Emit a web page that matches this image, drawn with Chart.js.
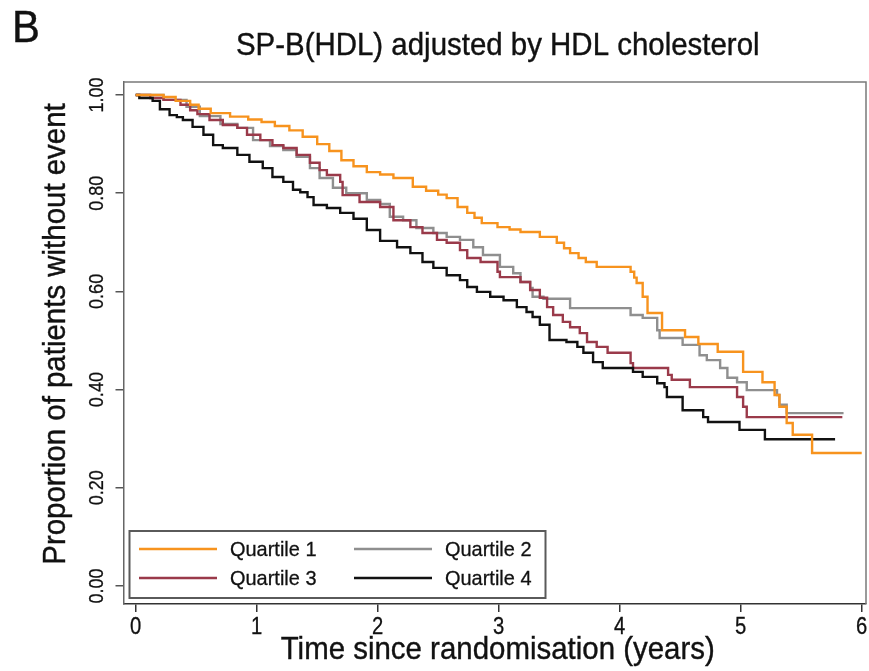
<!DOCTYPE html>
<html>
<head>
<meta charset="utf-8">
<script src="https://cdn.jsdelivr.net/npm/chart.js@4.4.1/dist/chart.umd.min.js"></script>
<style>
  html, body { margin: 0; padding: 0; background: #fff; }
</style>
</head>
<body>
<canvas id="km" width="869" height="671"></canvas>
<script>
// Kaplan-Meier curves (time in years, proportion without event)
const seriesNames = ['Quartile 1', 'Quartile 2', 'Quartile 3', 'Quartile 4'];
const seriesColors = ['#F7931E', '#8F8F8F', '#9A3A4A', '#111111'];

const q1Time = [0, 0.23, 0.33, 0.45, 0.52, 0.62, 0.78, 0.93, 1.04, 1.15, 1.27, 1.38, 1.50, 1.60, 1.70, 1.80, 1.91, 2.02, 2.13, 2.29, 2.40, 2.50, 2.57, 2.66, 2.74, 2.80, 2.86, 2.99, 3.09, 3.18, 3.34, 3.48, 3.54, 3.59, 3.66, 3.72, 3.81, 4.09, 4.12, 4.14, 4.19, 4.23, 4.35, 4.54, 4.65, 4.81, 5.02, 5.18, 5.28, 5.32, 5.38, 5.43, 5.59, 6.00];
const q1Surv = [1.0, 0.996, 0.988, 0.980, 0.972, 0.963, 0.956, 0.950, 0.945, 0.937, 0.928, 0.915, 0.900, 0.886, 0.867, 0.855, 0.843, 0.838, 0.831, 0.813, 0.805, 0.797, 0.790, 0.772, 0.760, 0.750, 0.739, 0.731, 0.726, 0.721, 0.711, 0.699, 0.688, 0.678, 0.668, 0.660, 0.650, 0.640, 0.628, 0.617, 0.589, 0.556, 0.521, 0.507, 0.493, 0.477, 0.436, 0.415, 0.389, 0.365, 0.332, 0.308, 0.271, 0.271];

const q2Time = [0, 0.23, 0.42, 0.53, 0.70, 0.84, 0.97, 1.11, 1.22, 1.33, 1.44, 1.52, 1.63, 1.74, 1.91, 2.02, 2.10, 2.21, 2.32, 2.46, 2.57, 2.68, 2.79, 2.87, 3.01, 3.12, 3.18, 3.26, 3.28, 3.37, 3.59, 4.09, 4.19, 4.31, 4.33, 4.52, 4.66, 4.72, 4.83, 4.89, 4.97, 5.05, 5.30, 5.32, 5.38, 5.85];
const q2Surv = [1.0, 0.990, 0.976, 0.957, 0.941, 0.933, 0.908, 0.896, 0.888, 0.874, 0.851, 0.831, 0.811, 0.800, 0.786, 0.778, 0.752, 0.745, 0.729, 0.719, 0.711, 0.705, 0.690, 0.674, 0.650, 0.637, 0.619, 0.607, 0.589, 0.585, 0.566, 0.552, 0.546, 0.521, 0.505, 0.491, 0.470, 0.460, 0.444, 0.424, 0.415, 0.399, 0.389, 0.369, 0.352, 0.352];

const q3Time = [0, 0.12, 0.23, 0.37, 0.45, 0.51, 0.61, 0.72, 0.84, 0.92, 1.03, 1.13, 1.22, 1.33, 1.44, 1.52, 1.58, 1.69, 1.71, 1.85, 2.02, 2.13, 2.27, 2.37, 2.49, 2.57, 2.68, 2.74, 2.85, 2.99, 3.01, 3.18, 3.26, 3.34, 3.40, 3.45, 3.53, 3.59, 3.67, 3.73, 3.81, 3.90, 4.09, 4.11, 4.40, 4.43, 4.58, 4.97, 5.02, 5.05, 5.84];
const q3Surv = [1.0, 0.994, 0.990, 0.980, 0.969, 0.961, 0.949, 0.939, 0.933, 0.919, 0.908, 0.898, 0.892, 0.878, 0.862, 0.847, 0.837, 0.823, 0.796, 0.782, 0.772, 0.745, 0.731, 0.719, 0.705, 0.699, 0.684, 0.668, 0.660, 0.640, 0.629, 0.619, 0.603, 0.587, 0.568, 0.552, 0.538, 0.527, 0.515, 0.497, 0.487, 0.475, 0.454, 0.444, 0.430, 0.420, 0.405, 0.385, 0.365, 0.344, 0.344];

const q4Time = [0, 0.03, 0.14, 0.20, 0.28, 0.34, 0.39, 0.47, 0.56, 0.64, 0.72, 0.84, 0.94, 1.05, 1.13, 1.22, 1.30, 1.36, 1.42, 1.47, 1.58, 1.69, 1.80, 1.91, 2.02, 2.16, 2.27, 2.37, 2.46, 2.57, 2.68, 2.74, 2.82, 2.93, 3.04, 3.15, 3.23, 3.28, 3.34, 3.42, 3.56, 3.65, 3.70, 3.78, 3.86, 4.11, 4.19, 4.31, 4.37, 4.39, 4.52, 4.69, 4.73, 4.99, 5.20, 5.78];
const q4Surv = [1.0, 0.994, 0.988, 0.971, 0.959, 0.955, 0.949, 0.935, 0.919, 0.898, 0.892, 0.878, 0.864, 0.851, 0.833, 0.823, 0.807, 0.802, 0.792, 0.776, 0.770, 0.760, 0.748, 0.725, 0.703, 0.690, 0.678, 0.660, 0.648, 0.633, 0.623, 0.609, 0.599, 0.589, 0.582, 0.568, 0.558, 0.548, 0.532, 0.501, 0.497, 0.487, 0.475, 0.456, 0.444, 0.436, 0.426, 0.413, 0.405, 0.385, 0.358, 0.344, 0.334, 0.318, 0.299, 0.299];

const xTicks = [0, 1, 2, 3, 4, 5, 6];
const yTicks = [0, 0.2, 0.4, 0.6, 0.8, 1.0];
const yTickLabels = ['0.00', '0.20', '0.40', '0.60', '0.80', '1.00'];

const panelLetter = 'B';
const chartTitle = 'SP-B(HDL) adjusted by HDL cholesterol';
const xTitle = 'Time since randomisation (years)';
const yTitle = 'Proportion of patients without event';

const FONT = '"Liberation Sans", Arial, Helvetica, sans-serif';

// slightly condensed text, like the exported figure
function drawText(ctx, txt, x, y, size, opts) {
    opts = opts || {};
    ctx.save();
    ctx.translate(x, y);
    if (opts.rotate) ctx.rotate(opts.rotate);
    ctx.scale(opts.narrow || 0.92, 1);
    ctx.font = size + 'px ' + FONT;
    ctx.textAlign = opts.align || 'center';
    ctx.textBaseline = opts.baseline || 'middle';
    ctx.fillStyle = '#111';
    ctx.fillText(txt, 0, 0);
    if (opts.heavy) {
        ctx.strokeStyle = '#111';
        ctx.lineWidth = opts.heavy;
        ctx.strokeText(txt, 0, 0);
    }
    ctx.restore();
}

function toPoints(times, surv) {
    return times.map((t, i) => ({ x: t, y: surv[i] }));
}

const allSeries = [[q1Time, q1Surv], [q2Time, q2Surv], [q3Time, q3Surv], [q4Time, q4Surv]];

// orange is drawn last, on top
const drawOrder = [0, 3, 2, 1];

const datasets = allSeries.map((s, i) => ({
    label: seriesNames[i],
    data: toPoints(s[0], s[1]),
    borderColor: seriesColors[i],
    backgroundColor: seriesColors[i],
    borderWidth: 2.4,
    stepped: true,
    pointRadius: 0,
    fill: false,
    order: drawOrder[i]
}));

const textPlugin = {
    id: 'kmText',
    afterDraw(chart) {
        const ctx = chart.ctx;
        const area = chart.chartArea;
        const xs = chart.scales.x;
        const ys = chart.scales.y;

        // plot region frame (top and right side)
        ctx.save();
        ctx.strokeStyle = '#7a7a7a';
        ctx.lineWidth = 1.5;
        ctx.beginPath();
        ctx.moveTo(area.left, area.top);
        ctx.lineTo(area.right, area.top);
        ctx.lineTo(area.right, area.bottom);
        ctx.stroke();
        ctx.restore();

        // tick labels
        xTicks.forEach(v => drawText(ctx, String(v), xs.getPixelForValue(v), 628, 23, { narrow: 0.88, heavy: 0.3 }));
        yTicks.forEach((v, i) => drawText(ctx, yTickLabels[i], 97, ys.getPixelForValue(v), 21, { rotate: -Math.PI / 2, narrow: 0.86, heavy: 0.3 }));

        // titles
        drawText(ctx, panelLetter, 12, 30, 44, { align: 'left', narrow: 0.95, heavy: 0.4 });
        drawText(ctx, chartTitle, (area.left + area.right) / 2 + 3, 46, 32, { heavy: 0.4 });
        drawText(ctx, xTitle, (area.left + area.right) / 2 + 3, 650, 32, { heavy: 0.4 });
        drawText(ctx, yTitle, 56, 334, 32, { rotate: -Math.PI / 2, heavy: 0.4 });

        // legend box
        const lx = 129.5, ly = 531, lw = 416, lh = 67;
        ctx.save();
        ctx.fillStyle = '#fff';
        ctx.fillRect(lx, ly, lw, lh);
        ctx.strokeStyle = '#5a5a5a';
        ctx.lineWidth = 2;
        ctx.strokeRect(lx, ly, lw, lh);
        const cols = [139, 354];
        const rows = [549, 578];
        chart.data.datasets.forEach((ds, i) => {
            const cx = cols[i % 2];
            const cy = rows[Math.floor(i / 2)];
            ctx.strokeStyle = ds.borderColor;
            ctx.lineWidth = 2.4;
            ctx.beginPath();
            ctx.moveTo(cx, cy);
            ctx.lineTo(cx + 78, cy);
            ctx.stroke();
            drawText(ctx, ds.label, cx + 91, cy + 1, 21, { align: 'left', narrow: 0.95, heavy: 0.3 });
        });
        ctx.restore();
    }
};

const X_MIN = (123.5 - 135.7) / 121;
const X_MAX = (866 - 135.7) / 121;
const Y_MIN = (586 - 604) / 491;
const Y_MAX = 1 + (95 - 82) / 491;

new Chart(document.getElementById('km'), {
    type: 'line',
    data: { datasets: datasets },
    options: {
        responsive: false,
        animation: false,
        devicePixelRatio: 1,
        layout: { padding: { left: 115.5, right: 3, top: 82, bottom: 59 } },
        plugins: {
            legend: { display: false },
            title: { display: false },
            tooltip: { enabled: false }
        },
        scales: {
            x: {
                type: 'linear',
                min: X_MIN,
                max: X_MAX,
                afterBuildTicks: scale => { scale.ticks = xTicks.map(v => ({ value: v })); },
                ticks: { display: false },
                grid: { drawOnChartArea: false, drawTicks: true, tickLength: 8, color: '#333', lineWidth: 1.5 },
                border: { display: true, color: '#333', width: 1.5 }
            },
            y: {
                type: 'linear',
                min: Y_MIN,
                max: Y_MAX,
                afterBuildTicks: scale => { scale.ticks = yTicks.map(v => ({ value: v })); },
                ticks: { display: false },
                grid: { drawOnChartArea: false, drawTicks: true, tickLength: 8, color: '#555', lineWidth: 1.5 },
                border: { display: true, color: '#666', width: 1.5 }
            }
        }
    },
    plugins: [textPlugin]
});
</script>
</body>
</html>
